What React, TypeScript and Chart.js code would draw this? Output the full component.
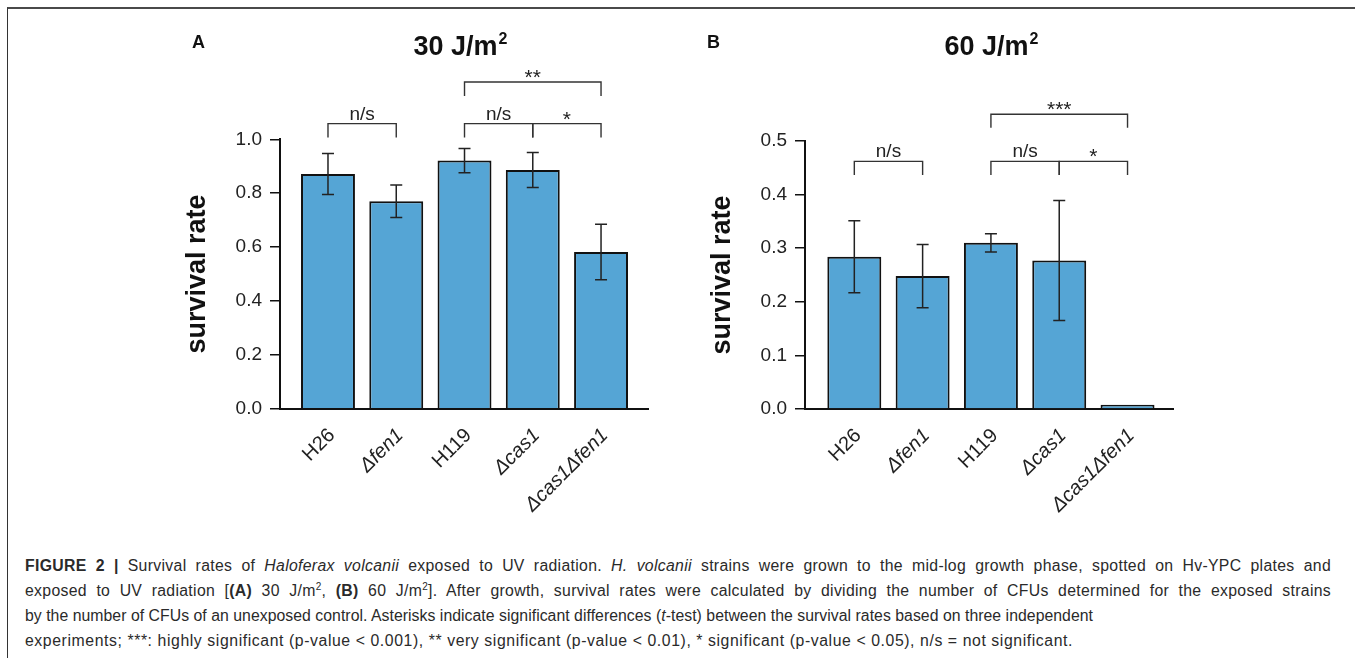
import React, { useEffect, useLayoutEffect, useRef } from 'react';
import { Chart, registerables } from 'chart.js';

Chart.register(...registerables);

// ---------- data ----------
const strains = ['H26', 'Δfen1', 'H119', 'Δcas1', 'Δcas1Δfen1'];
const italicStrain = [false, true, false, true, true];

const survival30 = [0.871, 0.770, 0.921, 0.886, 0.582];
const error30 = [0.076, 0.060, 0.045, 0.065, 0.103];
const yTicks30 = [0, 0.2, 0.4, 0.6, 0.8, 1.0];

const survival60 = [0.284, 0.248, 0.310, 0.277, 0.008];
const error60 = [0.067, 0.059, 0.017, 0.112, 0];
const yTicks60 = [0, 0.1, 0.2, 0.3, 0.4, 0.5];

// significance brackets: from / to bar index, level & leg end in axis units
const brackets30 = [
  { from: 0, to: 1, level: 1.058, leg: 1.007, label: 'n/s' },
  { from: 2, to: 3, level: 1.058, leg: 1.007, label: 'n/s' },
  { from: 3, to: 4, level: 1.058, leg: 1.007, label: '*' },
  { from: 2, to: 4, level: 1.2127, leg: 1.161, label: '**' },
];
const brackets60 = [
  { from: 0, to: 1, level: 0.462, leg: 0.4366, label: 'n/s' },
  { from: 2, to: 3, level: 0.462, leg: 0.4366, label: 'n/s' },
  { from: 3, to: 4, level: 0.462, leg: 0.4366, label: '*' },
  { from: 2, to: 4, level: 0.5498, leg: 0.5248, label: '***' },
];

const FAMILY = '"Liberation Sans", Arial, Helvetica, sans-serif';

type PanelCfg = {
  values: number[];
  errors: number[];
  yTicks: number[];
  brackets: { from: number; to: number; level: number; leg: number; label: string }[];
  title: string;
  letter: string;
  xMin: number;
  xMax: number;
  padRight: number;
  padTop: number;
  xAxisH: number;
  titleX: number;
  letterX: number;
};

function makeDecor(cfg: PanelCfg) {
  return {
    id: 'decor',
    afterDatasetsDraw(chart: any) {
      const ctx = chart.ctx as CanvasRenderingContext2D;
      const xs = chart.scales.x;
      const ys = chart.scales.y;
      ctx.save();
      // error bars
      ctx.strokeStyle = '#222';
      ctx.lineWidth = 1.5;
      cfg.values.forEach((v, i) => {
        const e = cfg.errors[i];
        if (!e) return;
        const px = xs.getPixelForValue(i);
        const t = ys.getPixelForValue(v + e);
        const b = ys.getPixelForValue(v - e);
        ctx.beginPath();
        ctx.moveTo(px, t);
        ctx.lineTo(px, b);
        ctx.moveTo(px - 6, t);
        ctx.lineTo(px + 6, t);
        ctx.moveTo(px - 6, b);
        ctx.lineTo(px + 6, b);
        ctx.stroke();
      });
      // brackets
      ctx.strokeStyle = '#333';
      ctx.lineWidth = 1.4;
      ctx.fillStyle = '#222';
      ctx.textAlign = 'center';
      ctx.textBaseline = 'alphabetic';
      cfg.brackets.forEach((br) => {
        const x1 = xs.getPixelForValue(br.from);
        const x2 = xs.getPixelForValue(br.to);
        const yl = ys.getPixelForValue(br.level);
        const yb = ys.getPixelForValue(br.leg);
        ctx.beginPath();
        ctx.moveTo(x1, yb);
        ctx.lineTo(x1, yl);
        ctx.lineTo(x2, yl);
        ctx.lineTo(x2, yb);
        ctx.stroke();
        const star = br.label.startsWith('*');
        ctx.font = star ? `21px ${FAMILY}` : `19px ${FAMILY}`;
        ctx.fillText(br.label, (x1 + x2) / 2, star ? yl + 2 : yl - 4);
      });
      ctx.restore();
    },
    afterDraw(chart: any) {
      const ctx = chart.ctx as CanvasRenderingContext2D;
      ctx.save();
      ctx.fillStyle = '#111';
      ctx.textBaseline = 'alphabetic';
      ctx.textAlign = 'left';
      // title with superscript
      ctx.font = `bold 27px ${FAMILY}`;
      const w1 = ctx.measureText(cfg.title).width;
      ctx.font = `bold 16px ${FAMILY}`;
      const w2 = ctx.measureText('2').width;
      const sx = cfg.titleX - (w1 + w2) / 2;
      ctx.font = `bold 27px ${FAMILY}`;
      ctx.fillText(cfg.title, sx, 55);
      ctx.font = `bold 16px ${FAMILY}`;
      ctx.fillText('2', sx + w1 + 1, 44);
      // panel letter
      ctx.font = `bold 18px ${FAMILY}`;
      ctx.fillText(cfg.letter, cfg.letterX, 48);
      ctx.restore();
    },
  };
}

function Panel({ left, cfg }: { left: number; cfg: PanelCfg }) {
  const ref = useRef<HTMLCanvasElement>(null);
  useEffect(() => {
    const chart = new Chart(ref.current as HTMLCanvasElement, {
      type: 'bar',
      data: {
        datasets: [
          {
            data: cfg.values.map((v, i) => ({ x: i, y: v })),
            backgroundColor: '#55a5d5',
            borderColor: '#111',
            borderWidth: 2,
            categoryPercentage: 1,
            barPercentage: 0.79,
          } as any,
        ],
      },
      options: {
        responsive: false,
        animation: false,
        devicePixelRatio: 1,
        layout: { padding: { left: 0, right: cfg.padRight, top: cfg.padTop, bottom: 0 } },
        plugins: {
          legend: { display: false },
          tooltip: { enabled: false },
          title: { display: false },
        },
        scales: {
          x: {
            type: 'linear',
            offset: false,
            min: cfg.xMin,
            max: cfg.xMax,
            grid: { display: false, drawTicks: false },
            border: { display: true, color: '#111', width: 2 },
            afterBuildTicks: (s: any) => {
              s.ticks = strains.map((_, i) => ({ value: i }));
            },
            afterFit: (s: any) => {
              s.height = cfg.xAxisH;
            },
            ticks: {
              autoSkip: false,
              minRotation: 45,
              maxRotation: 45,
              padding: 15,
              labelOffset: 4,
              color: '#222',
              font: (c: any) => ({
                family: FAMILY,
                size: 20,
                style: italicStrain[c.index] ? 'italic' : 'normal',
              }),
              callback: (v: any) => strains[v] ?? '',
            },
          } as any,
          y: {
            type: 'linear',
            min: 0,
            max: cfg.yTicks[cfg.yTicks.length - 1],
            afterBuildTicks: (s: any) => {
              s.ticks = cfg.yTicks.map((v) => ({ value: v }));
            },
            afterFit: (s: any) => {
              s.width = 120;
            },
            grid: { drawOnChartArea: false, drawTicks: true, tickLength: 10, color: '#111', lineWidth: 1.5 },
            border: { display: true, color: '#111', width: 2 },
            ticks: {
              padding: 8,
              color: '#222',
              font: { family: FAMILY, size: 19 },
              callback: (v: any) => Number(v).toFixed(1),
            },
            title: {
              display: true,
              text: 'survival rate',
              color: '#111',
              font: { family: FAMILY, size: 27, weight: 'bold' },
              padding: { top: 21, bottom: 0 },
            },
          } as any,
        },
      },
      plugins: [makeDecor(cfg)],
    });
    return () => chart.destroy();
  }, []);
  return (
    <canvas
      ref={ref}
      width={500}
      height={540}
      style={{ position: 'absolute', left, top: 0, width: 500, height: 540 }}
    />
  );
}

const panelA: PanelCfg = {
  values: survival30,
  errors: error30,
  yTicks: yTicks30,
  brackets: brackets30,
  title: '30 J/m',
  letter: 'A',
  xMin: -0.703,
  xMax: 4.688,
  padRight: 12,
  padTop: 139.3,
  xAxisH: 540 - 408.7,
  titleX: 300,
  letterX: 32,
};

const panelB: PanelCfg = {
  values: survival60,
  errors: error60,
  yTicks: yTicks60,
  brackets: brackets60,
  title: '60 J/m',
  letter: 'B',
  xMin: -0.722,
  xMax: 4.67,
  padRight: 11.7,
  padTop: 141,
  xAxisH: 540 - 409,
  titleX: 306,
  letterX: 22,
};

const sup = { fontSize: '10px', lineHeight: 0, verticalAlign: 'super' } as React.CSSProperties;

export default function App() {
  const l1 = useRef<HTMLSpanElement>(null);
  const l2 = useRef<HTMLSpanElement>(null);
  const l3 = useRef<HTMLSpanElement>(null);
  const l4 = useRef<HTMLSpanElement>(null);
  useLayoutEffect(() => {
    const spacings: number[] = [];
    const natural: [React.RefObject<HTMLSpanElement>, number][] = [
      [l3, 1068],
      [l4, 1048],
    ];
    natural.forEach(([r, target]) => {
      const el = r.current;
      if (!el) return;
      el.style.letterSpacing = '0px';
      const w = el.getBoundingClientRect().width;
      const n = (el.textContent || '').length;
      const ls = (target - w) / n;
      spacings.push(ls);
      el.style.letterSpacing = `${ls}px`;
    });
    const avg = spacings.length ? spacings.reduce((a, b) => a + b, 0) / spacings.length : 0;
    [l1, l2].forEach((r) => {
      const el = r.current;
      if (!el) return;
      el.style.letterSpacing = `${avg}px`;
      el.style.wordSpacing = '0px';
      const w = el.getBoundingClientRect().width;
      const spaces = ((el.textContent || '').match(/ /g) || []).length;
      el.style.wordSpacing = `${(1306 - w) / Math.max(spaces, 1)}px`;
    });
  }, []);
  const line: React.CSSProperties = { whiteSpace: 'nowrap' };
  return (
    <div style={{ position: 'absolute', left: 0, top: 0, width: 1355, height: 658, background: '#fff', overflow: 'hidden' }}>
      <div style={{ position: 'absolute', left: 7, top: 7, width: 1348, height: 660, borderTop: '2px solid #4a4a4a', borderLeft: '1px solid #333' }} />
      <Panel left={160} cfg={panelA} />
      <Panel left={685} cfg={panelB} />
      <div
        style={{
          position: 'absolute',
          left: 25,
          top: 553,
          width: 1320,
          fontFamily: FAMILY,
          fontSize: '15.8px',
          lineHeight: '25px',
          color: '#2a2a2a',
        }}
      >
        <div style={line}>
          <span ref={l1}>
            <b>FIGURE 2 |</b> Survival rates of <i>Haloferax volcanii</i> exposed to UV radiation. <i>H. volcanii</i> strains were grown to the mid-log growth phase, spotted on Hv-YPC plates and
          </span>
        </div>
        <div style={line}>
          <span ref={l2}>
            exposed to UV radiation [<b>(A)</b> 30 J/m<span style={sup}>2</span>, <b>(B)</b> 60 J/m<span style={sup}>2</span>]. After growth, survival rates were calculated by dividing the number of CFUs determined for the exposed strains
          </span>
        </div>
        <div style={line}>
          <span ref={l3}>
            by the number of CFUs of an unexposed control. Asterisks indicate significant differences (<i>t</i>-test) between the survival rates based on three independent
          </span>
        </div>
        <div style={line}>
          <span ref={l4}>
            experiments; ***: highly significant (p-value &lt; 0.001), ** very significant (p-value &lt; 0.01), * significant (p-value &lt; 0.05), n/s = not significant.
          </span>
        </div>
      </div>
    </div>
  );
}
